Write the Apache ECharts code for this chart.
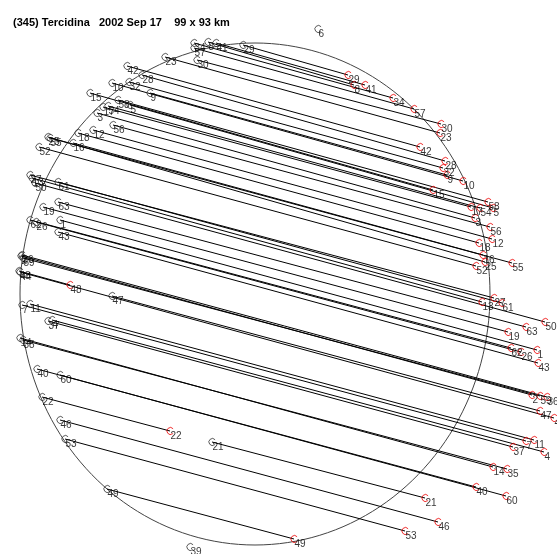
<!DOCTYPE html>
<html>
<head>
<meta charset="utf-8">
<script src="https://cdn.jsdelivr.net/npm/echarts@6/dist/echarts.min.js"></script>
<style>html,body{margin:0;padding:0;background:#fff}#c{width:557px;height:554px}</style>
</head>
<body>
<div id="c"></div>
<script>
// Occultation chords, in plot units (fundamental plane, scaled)
const chordLabels = ["34","8","41","29","57","30","23","42","28","32","10","9","15","58","5","17","54","3","56","18","12","16","25","55","52","13","27","61","50","63","19","62","26","1","43","2","59","36","48","44","47","7","11","37","4","14","35","40","60","22","46","53","21","49"];
const startX = [194,208,216,243,194,197,165,127,142,129,112,150,90,118,130,103,108,97,113,78,93,73,48,50,39,32,30,58,35,58,43,30,36,60,58,21,23,22,19,20,112,22,30,48,52,20,23,37,60,42,60,65,212,107];
const startY = [43,42,43,45,48,60,57,66,75,82,83,93,93,100,105,107,106,113,125,133,130,143,137,138,147,178,175,182,183,202,207,220,222,220,232,256,258,255,271,272,296,305,304,321,320,338,340,369,375,397,420,439,442,489];
const endX = [393,354,365,348,414,441,440,420,445,443,463,447,433,488,493,471,480,475,490,479,492,483,485,512,476,482,494,502,545,526,508,511,521,537,538,532,540,547,70,554,540,526,534,513,544,493,507,476,506,170,438,405,425,294];
const endY = [98,85,85,75,109,124,133,147,161,168,181,175,190,202,208,207,208,218,227,243,239,255,262,263,266,302,298,303,322,327,332,348,352,350,363,395,396,397,285,418,411,441,440,447,452,467,469,487,496,431,522,531,498,539];
// Stations without a chord
const soloLabels = ["6","39"];
const soloX = [318,190];
const soloY = [29,547];
// Fitted profile ellipse: centre and semi-axes (plot units)
const ellipseFit = [255, 294, 235, 251];

const startData = chordLabels.map((l,i)=>({value:[startX[i],startY[i]],name:l}));
const endData = chordLabels.map((l,i)=>({value:[endX[i],endY[i]],name:l}));
const soloData = soloLabels.map((l,i)=>({value:[soloX[i],soloY[i]],name:l}));
const lineData = chordLabels.map((l,i)=>({coords:[[startX[i],startY[i]],[endX[i],endY[i]]]}));

const cSymbol = 'path://M16.1 4.9 A8 8 0 1 0 16.1 15.1';
const lbl = {show:true, formatter:p=>p.name, position:[4,4], fontSize:10, color:'#000',
  fontFamily:'Liberation Sans, Arial, sans-serif', align:'left', verticalAlign:'top'};

const chart = echarts.init(document.getElementById('c'), null, {renderer:'canvas'});
chart.setOption({
  animation:false,
  backgroundColor:'#fff',
  title:{text:'(345) Tercidina   2002 Sep 17    99 x 93 km', left:8, top:12,
    textStyle:{fontSize:11, fontWeight:'bold', color:'#000', fontFamily:'Liberation Sans, Arial, sans-serif'}},
  grid:{left:0,right:0,top:0,bottom:0},
  xAxis:{type:'value',min:0,max:557,show:false},
  yAxis:{type:'value',min:0,max:554,inverse:true,show:false},
  series:[
    {type:'custom', data:[ellipseFit], silent:true, z:1,
      renderItem:(params,api)=>{
        const cx=api.value(0), cy=api.value(1), a=api.value(2), b=api.value(3);
        const pts=[];
        for(let k=0;k<=360;k+=2){
          const t=k*Math.PI/180;
          pts.push(api.coord([cx+a*Math.cos(t), cy+b*Math.sin(t)]));
        }
        return {type:'polyline', shape:{points:pts}, style:{fill:'none', stroke:'#444', lineWidth:1}};
      }},
    {type:'lines', coordinateSystem:'cartesian2d', data:lineData, z:2, silent:true,
      lineStyle:{color:'#000', width:1, opacity:1}},
    {type:'scatter', data:startData, symbol:cSymbol, symbolSize:7, symbolKeepAspect:true, z:3,
      itemStyle:{color:'rgba(0,0,0,0)', borderColor:'#333', borderWidth:1}, label:lbl},
    {type:'scatter', data:soloData, symbol:cSymbol, symbolSize:7, symbolKeepAspect:true, z:3,
      itemStyle:{color:'rgba(0,0,0,0)', borderColor:'#333', borderWidth:1}, label:lbl},
    {type:'scatter', data:endData, symbol:cSymbol, symbolSize:7, symbolKeepAspect:true, z:4,
      itemStyle:{color:'rgba(0,0,0,0)', borderColor:'#e00', borderWidth:1}, label:lbl}
  ]
});
</script>
</body>
</html>
